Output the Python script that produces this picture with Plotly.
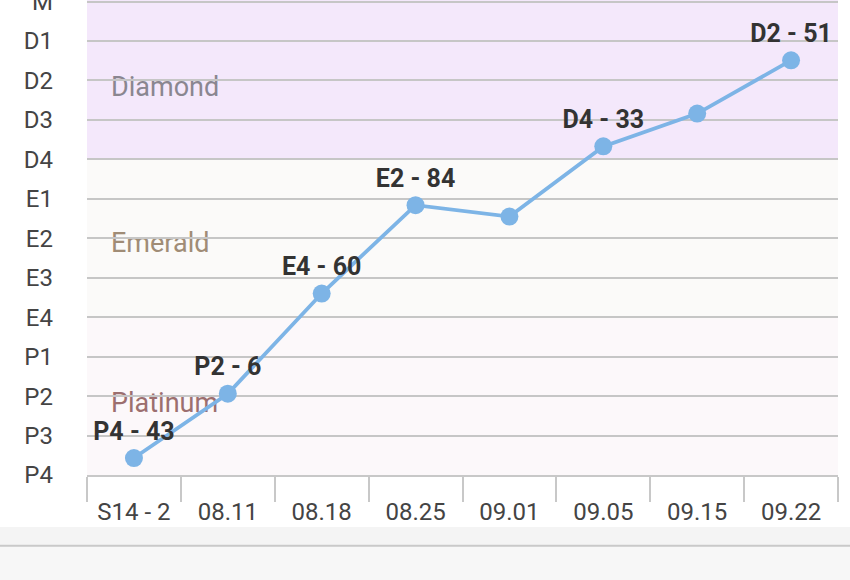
import plotly.graph_objects as go

# ---- data ----
dates = ["S14 - 2", "08.11", "08.18", "08.25", "09.01", "09.05", "09.15", "09.22"]
rank_values = [0.43, 2.06, 4.60, 6.84, 6.55, 8.33, 9.16, 10.51]
point_labels = ["P4 - 43", "P2 - 6", "E4 - 60", "E2 - 84", "", "D4 - 33", "", "D2 - 51"]
tier_ticks = ["P4", "P3", "P2", "P1", "E4", "E3", "E2", "E1", "D4", "D3", "D2", "D1", "M"]
band_names = ["Platinum", "Emerald", "Diamond"]
band_lo = [0, 4, 8]
band_hi = [4, 8, 12.04]
band_label_at = [1.88, 5.93, 9.88]
band_fill = ["#fcf8fa", "#fbfaf9", "#f4e8fb"]
band_text = ["#9c6f6f", "#a08c76", "#8a8690"]

Y_TOP = 12.04
FONT = "Roboto"

fig = go.Figure()

fig.add_trace(go.Scatter(
    x=dates, y=rank_values, text=point_labels,
    mode="lines+markers+text",
    textposition="top center",
    textfont=dict(family=FONT, size=25, color="#333333", weight="bold"),
    line=dict(color="#7db4e6", width=3.8),
    marker=dict(color="#7db4e6", size=18),
    hoverinfo="skip", showlegend=False,
))

shapes = []
for name, lo, hi, fill in zip(band_names, band_lo, band_hi, band_fill):
    shapes.append(dict(
        type="rect", xref="x domain", yref="y", x0=0, x1=1, y0=lo, y1=hi,
        fillcolor=fill, line=dict(width=0), layer="below",
    ))
for name, c, tc in zip(band_names, band_label_at, band_text):
    shapes.append(dict(
        type="rect", xref="x domain", yref="y", x0=0, x1=1, y0=c - 1, y1=c + 1,
        fillcolor="rgba(0,0,0,0)", line=dict(width=0), layer="below",
        label=dict(text=name, textposition="middle left", padding=21,
                   font=dict(family=FONT, size=27, color=tc)),
    ))

# bottom UI strip
shapes.append(dict(type="rect", xref="paper", yref="paper", x0=-0.2, x1=1.2,
                   y0=-0.23, y1=-0.1095, fillcolor="#f4f4f4", line=dict(width=0), layer="below"))
shapes.append(dict(type="rect", xref="paper", yref="paper", x0=-0.2, x1=1.2,
                   y0=-0.23, y1=-0.151, fillcolor="#f7f7f7", line=dict(width=0), layer="below"))
shapes.append(dict(type="line", xref="paper", yref="paper", x0=-0.2, x1=1.2,
                   y0=-0.149, y1=-0.149, line=dict(color="#c9c9c9", width=2), layer="below"))

fig.update_layout(
    width=850, height=580,
    margin=dict(l=87, r=12, t=0, b=105),
    paper_bgcolor="white", plot_bgcolor="white",
    shapes=shapes,
    font=dict(family=FONT),
    xaxis=dict(
        type="category", range=[-0.5, 7.5], automargin=False,
        tickson="boundaries", ticks="outside", ticklen=25, tickwidth=2, tickcolor="#c8c8c8",
        showline=True, linecolor="#c8c8c8", linewidth=2,
        showgrid=False, zeroline=False,
        ticklabelstandoff=14,
        tickfont=dict(family=FONT, size=24, color="#444444"),
    ),
    yaxis=dict(
        range=[0, Y_TOP], tickmode="array", automargin=False,
        tickvals=list(range(len(tier_ticks))), ticktext=tier_ticks,
        showgrid=True, gridcolor="#c6c6c6", gridwidth=2,
        zeroline=False, showline=False, ticks="",
        ticklabelstandoff=33, ticklabeloverflow="allow",
        tickfont=dict(family=FONT, size=24, color="#444444"),
    ),
)

fig.write_html("out.html")
